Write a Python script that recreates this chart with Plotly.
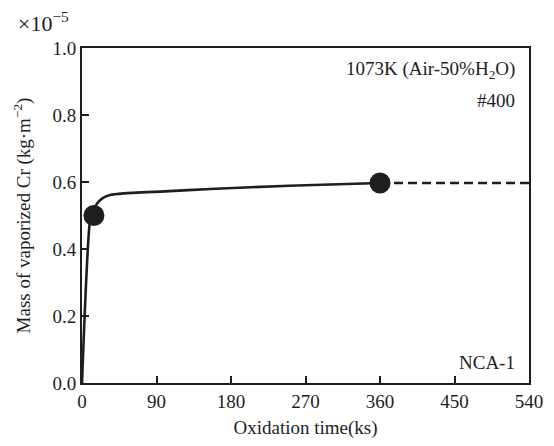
import plotly.graph_objects as go

# data (mass in units of 1e-5 kg/m^2)
curve_t = [0, 10, 14, 18, 25, 34, 50, 100, 155, 250, 360]
curve_m = [0.0, 0.49, 0.515, 0.535, 0.552, 0.561, 0.566, 0.572, 0.579, 0.589, 0.597]
dash_t = [360, 540]
dash_m = [0.597, 0.597]
pts_t = [14.4, 360]
pts_m = [0.50, 0.597]
xticks = [0, 90, 180, 270, 360, 450, 540]
yticks = [0.0, 0.2, 0.4, 0.6, 0.8, 1.0]

C = "#1e1e1e"
F = "Liberation Serif"
FS = 19

fig = go.Figure()
fig.add_trace(go.Scatter(x=curve_t, y=curve_m, mode="lines",
                         line=dict(color=C, width=2.6, shape="spline", smoothing=0.6),
                         showlegend=False, cliponaxis=False))
fig.add_trace(go.Scatter(x=dash_t, y=dash_m, mode="lines",
                         line=dict(color=C, width=2.4, dash="9px,5px"),
                         showlegend=False, cliponaxis=False))
fig.add_trace(go.Scatter(x=pts_t, y=pts_m, mode="markers",
                         marker=dict(color=C, size=21),
                         showlegend=False, cliponaxis=False))

fig.update_layout(
    width=554, height=446,
    margin=dict(l=82, r=25, t=48, b=63),
    paper_bgcolor="white", plot_bgcolor="white",
    font=dict(family=F, size=FS, color=C),
    xaxis=dict(range=[0, 540], tickvals=xticks, ticktext=[str(v) for v in xticks],
               ticks="inside", ticklen=7, tickwidth=1.5, tickcolor=C,
               showline=True, linecolor=C, linewidth=2, mirror=True,
               showgrid=False, zeroline=False, tickfont=dict(size=FS),
               title=dict(text="Oxidation time(ks)", font=dict(size=FS), standoff=10)),
    yaxis=dict(range=[0, 1.0], tickvals=yticks, ticktext=[f"{v:.1f}" for v in yticks],
               ticks="inside", ticklen=7, tickwidth=1.5, tickcolor=C,
               showline=True, linecolor=C, linewidth=2, mirror=True,
               showgrid=False, zeroline=False, tickfont=dict(size=FS),
               title=dict(text="Mass of vaporized Cr (kg·m<sup>−2</sup>)", font=dict(size=FS), standoff=17)),
    annotations=[
        dict(text="×10<sup>−5</sup>", x=0, y=1, xref="paper", yref="paper",
             xanchor="left", yanchor="bottom", xshift=-66, yshift=10, showarrow=False,
             font=dict(size=22)),
        dict(text="1073K (Air-50%H<sub>2</sub>O)", x=1, y=1, xref="paper", yref="paper",
             xanchor="right", yanchor="top", xshift=-12, yshift=-8, showarrow=False,
             font=dict(size=FS)),
        dict(text="#400", x=1, y=1, xref="paper", yref="paper",
             xanchor="right", yanchor="top", xshift=-12, yshift=-40, showarrow=False,
             font=dict(size=FS)),
        dict(text="NCA-1", x=1, y=0, xref="paper", yref="paper",
             xanchor="right", yanchor="bottom", xshift=-12, yshift=8, showarrow=False,
             font=dict(size=FS)),
    ],
)
fig.write_html("out.html")
